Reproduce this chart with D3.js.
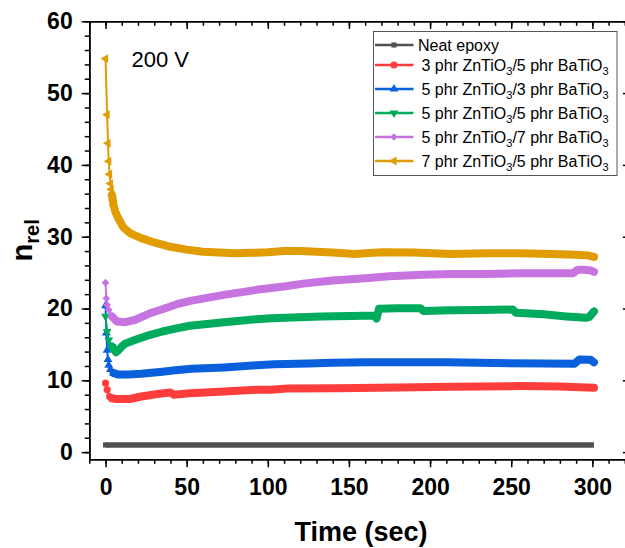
<!DOCTYPE html>
<html><head><meta charset="utf-8">
<script src="https://cdn.jsdelivr.net/npm/d3@7"></script>
<style>body{margin:0;background:#fff}svg{display:block}text{font-family:"Liberation Sans",Arial,sans-serif}</style>
</head><body><svg id="c" width="625" height="548"></svg>
<script>
// ---- data ----
const seriesLabels = ["Neat epoxy","3 phr ZnTiO_3/5 phr BaTiO_3","5 phr ZnTiO_3/3 phr BaTiO_3","5 phr ZnTiO_3/5 phr BaTiO_3","5 phr ZnTiO_3/7 phr BaTiO_3","7 phr ZnTiO_3/5 phr BaTiO_3"];
const seriesColors = ["#515151","#ff3d3d","#0a60dc","#00ab5e","#c874e0","#e09c00"];

const timeNeat = [0,50,100,150,200,250,301];
const nNeat    = [1.0,1.0,1.0,1.0,1.0,1.0,1.0];

const time3Zn5Ba = [0,1,2.5,4,7,15,22,32,40,42,52,73,93,102,112,143,180,213,256,280,301];
const n3Zn5Ba    = [9.6,8.7,7.75,7.5,7.4,7.4,7.75,8.1,8.3,8.0,8.2,8.45,8.7,8.7,8.85,8.9,9.0,9.1,9.2,9.15,8.95];

const time5Zn3Ba = [0,0.5,1,1.5,2,3,5,8,14,22,35,43,53,73,93,104,125,140,160,210,240,270,289,292,299,301];
const n5Zn3Ba    = [20.4,16.6,14.2,12.9,12.1,11.5,11.0,10.8,10.8,10.9,11.2,11.4,11.6,11.8,12.1,12.25,12.35,12.45,12.5,12.5,12.4,12.35,12.3,12.9,12.85,12.5];

const time5Zn5Ba = [0,1,2,4,6.5,8,10,12,18,27,35,43,52,73,93,102,133,160,166,167,168.5,180,194,196,213,230,251,253,270,284,296,298,301];
const n5Zn5Ba    = [18.9,16.8,15.6,14.7,13.9,14.2,14.7,15.1,15.6,16.3,16.8,17.2,17.6,18.1,18.5,18.65,18.9,19.0,19.0,18.6,19.95,20.05,20.05,19.65,19.75,19.8,19.85,19.4,19.2,18.9,18.7,18.8,19.6];

const time5Zn7Ba = [0,0.5,1,2,4,7,12,18,27,35,44,53,73,93,111,123,140,160,175,195,213,235,256,275,288,291,295,299,301];
const n5Zn7Ba    = [23.6,21.4,20.5,19.8,18.9,18.2,18.1,18.4,19.3,19.9,20.6,21.1,21.9,22.6,23.1,23.5,23.9,24.2,24.5,24.7,24.8,24.8,24.9,24.9,24.9,25.4,25.4,25.3,25.1];

const time7Zn5Ba = [0,1,1.5,2,2.5,3,3.5,4,4.5,5,6,8,11,15,22,30,40,50,60,70,80,90,100,110,120,130,140,153,170,190,213,235,256,275,290,297,301];
const n7Zn5Ba    = [54.8,47.0,43.0,40.5,38.7,37.4,36.6,35.8,35.1,34.4,33.5,32.5,31.3,30.5,29.8,29.2,28.6,28.2,27.9,27.8,27.7,27.75,27.85,28.0,28.0,27.9,27.8,27.6,27.85,27.8,27.6,27.7,27.7,27.6,27.5,27.4,27.2];

const xMajorTicks = [0,50,100,150,200,250,300];
const yMajorTicks = [0,10,20,30,40,50,60];
const annotation = "200 V";

// ---- build ----
const seriesTimes = [timeNeat,time3Zn5Ba,time5Zn3Ba,time5Zn5Ba,time5Zn7Ba,time7Zn5Ba];
const seriesValues = [nNeat,n3Zn5Ba,n5Zn3Ba,n5Zn5Ba,n5Zn7Ba,n7Zn5Ba];
const series = seriesLabels.map((lab,i)=>({label:lab,color:seriesColors[i],
  pts: seriesTimes[i].map((t,j)=>({t, v: seriesValues[i][j]}))}));

const svg = d3.select("#c");
const L=89.3, R=630.5, T=21.3, B=459.3;
const x = d3.scaleLinear().domain([-10,323.5]).range([L,R]);
const y = d3.scaleLinear().domain([-1,60]).range([B,T]);

const markerDefs = [
  {type:d3.symbolSquare,size:26,rot:0},
  {type:d3.symbolCircle,size:40,rot:0},
  {type:d3.symbolTriangle,size:34,rot:0},
  {type:d3.symbolTriangle,size:34,rot:180},
  {type:d3.symbolSquare,size:30,rot:45},
  {type:d3.symbolTriangle,size:34,rot:-90}
];

const plot = svg.append("g");
const line = d3.line().x(d=>x(d.t)).y(d=>y(d.v));
series.forEach((s,i)=>{
  const g = plot.append("g");
  g.append("path").attr("d",line(s.pts)).attr("fill","none").attr("stroke",s.color)
    .attr("stroke-width",2).attr("stroke-linejoin","round");
  const bandPts = s.pts.filter(d=>d.t>=4 || i===0);
  g.append("path").attr("d",line(bandPts)).attr("fill","none").attr("stroke",s.color)
    .attr("stroke-width", i===0?5.5:8).attr("stroke-linejoin","round").attr("stroke-linecap", i===0?"butt":"round");
  const md = markerDefs[i];
  g.selectAll("path.m").data(s.pts.filter(d=>d.t<=5)).join("path").attr("class","m")
    .attr("d",d3.symbol().type(md.type).size(md.size))
    .attr("transform",d=>`translate(${x(d.t)},${y(d.v)}) rotate(${md.rot})`)
    .attr("fill",s.color);
});

// axes
function styleAxis(g){
  g.selectAll("path.domain").attr("stroke","#000").attr("stroke-width",1.6);
  g.selectAll(".tick line").attr("stroke","#000").attr("stroke-width",1.5);
}
const xMinor = d3.range(-10,324,10);
const yMinor = d3.range(0,61,2);
const font = '"Liberation Sans", Arial, sans-serif';
// bottom
const gxm = svg.append("g").attr("transform",`translate(0,${B})`)
  .call(d3.axisBottom(x).tickValues(xMinor).tickSize(4.5).tickSizeOuter(0).tickFormat(""));
styleAxis(gxm);
const gx = svg.append("g").attr("transform",`translate(0,${B})`)
  .call(d3.axisBottom(x).tickValues(xMajorTicks).tickSize(8).tickPadding(11).tickSizeOuter(0));
styleAxis(gx);
gx.selectAll("text").attr("font-size",23).attr("font-weight","bold").attr("fill","#000").attr("font-family",font);
// top
const gtm = svg.append("g").attr("transform",`translate(0,${T})`)
  .call(d3.axisTop(x).tickValues(xMinor).tickSize(-4.5).tickSizeOuter(0).tickFormat(""));
styleAxis(gtm);
const gt = svg.append("g").attr("transform",`translate(0,${T})`)
  .call(d3.axisTop(x).tickValues(xMajorTicks).tickSize(-7.6).tickSizeOuter(0).tickFormat(""));
styleAxis(gt);
// left
const gym = svg.append("g").attr("transform",`translate(${L},0)`)
  .call(d3.axisLeft(y).tickValues(yMinor).tickSize(4.5).tickSizeOuter(0).tickFormat(""));
styleAxis(gym);
const gy = svg.append("g").attr("transform",`translate(${L},0)`)
  .call(d3.axisLeft(y).tickValues(yMajorTicks).tickSize(7.6).tickPadding(9).tickSizeOuter(0));
styleAxis(gy);
gy.selectAll("text").attr("font-size",23).attr("font-weight","bold").attr("fill","#000").attr("font-family",font);
// right
const grm = svg.append("g").attr("transform",`translate(${R},0)`)
  .call(d3.axisRight(y).tickValues(yMinor).tickSize(-4.5).tickSizeOuter(0).tickFormat(""));
styleAxis(grm);
const gr = svg.append("g").attr("transform",`translate(${R},0)`)
  .call(d3.axisRight(y).tickValues(yMajorTicks).tickSize(-7.6).tickSizeOuter(0).tickFormat(""));
styleAxis(gr);

// axis titles
svg.append("text").attr("x",361).attr("y",541).attr("text-anchor","middle")
  .attr("font-size",27).attr("font-weight","bold").text("Time (sec)");
const yt = svg.append("text").attr("transform",`translate(32,${(T+B)/2}) rotate(-90)`)
  .attr("text-anchor","middle").attr("font-weight","bold").attr("font-size",29);
yt.append("tspan").text("n");
yt.append("tspan").attr("font-size",20).attr("dy",7).text("rel");

// annotation
svg.append("text").attr("x",131.5).attr("y",67).attr("font-size",22).text(annotation);

// legend
const lg = svg.append("g");
lg.append("rect").attr("x",373.5).attr("y",31.5).attr("width",243.5).attr("height",144)
  .attr("fill","#fff").attr("stroke","#555").attr("stroke-width",1);
const rowY = [45,65,89,113,137,161];
series.forEach((s,i)=>{
  const ry = rowY[i];
  lg.append("line").attr("x1",375).attr("x2",413.5).attr("y1",ry).attr("y2",ry)
    .attr("stroke",s.color).attr("stroke-width",2.5);
  const md = markerDefs[i];
  lg.append("path").attr("d",d3.symbol().type(md.type).size(md.size))
    .attr("transform",`translate(394,${ry}) rotate(${md.rot})`).attr("fill",s.color);
  const t = lg.append("text").attr("x", i===0?418:421.5).attr("y",ry+5.8).attr("font-size",16).attr("fill","#000");
  const parts = s.label.split(/_(\d)/);
  let sub=false;
  parts.forEach((p,k)=>{
    if(p==="") return;
    if(k%2===1){ t.append("tspan").attr("font-size",11).attr("dy",4).text(p); sub=true; }
    else { const ts=t.append("tspan").text(p); if(sub){ts.attr("dy",-4); sub=false;} }
  });
});
</script></body></html>
